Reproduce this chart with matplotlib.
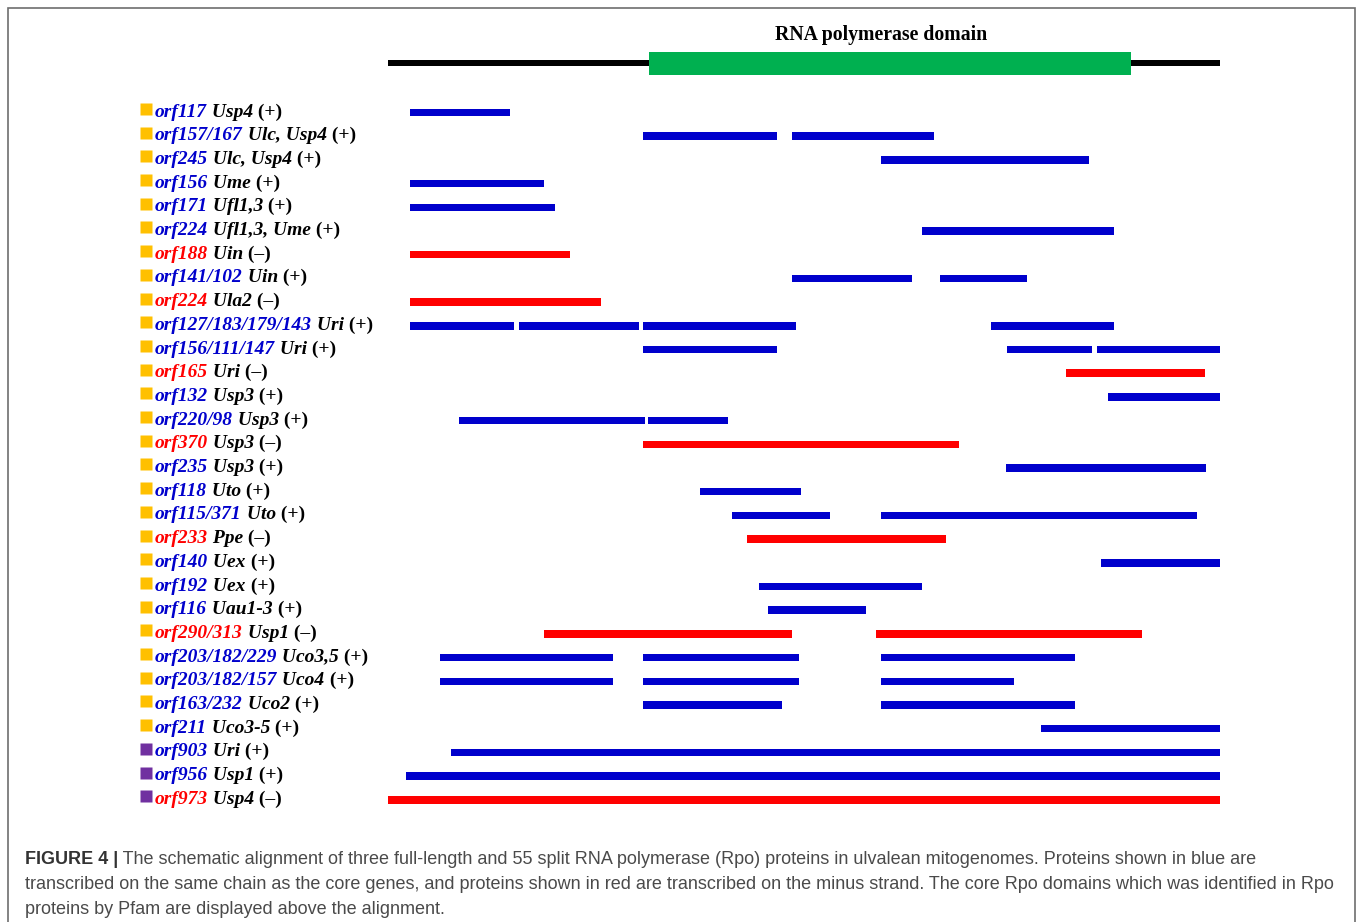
import matplotlib
matplotlib.use("Agg")
import matplotlib.pyplot as plt
import matplotlib.transforms as mtransforms
from matplotlib.patches import Rectangle

# ---------------- data ----------------
orfs = ['orf117', 'orf157/167', 'orf245', 'orf156', 'orf171', 'orf224',
        'orf188', 'orf141/102', 'orf224', 'orf127/183/179/143',
        'orf156/111/147', 'orf165', 'orf132', 'orf220/98', 'orf370',
        'orf235', 'orf118', 'orf115/371', 'orf233', 'orf140', 'orf192',
        'orf116', 'orf290/313', 'orf203/182/229', 'orf203/182/157',
        'orf163/232', 'orf211', 'orf903', 'orf956', 'orf973']
genes = ['Usp4', 'Ulc, Usp4', 'Ulc, Usp4', 'Ume', 'Ufl1,3', 'Ufl1,3, Ume',
         'Uin', 'Uin', 'Ula2', 'Uri', 'Uri', 'Uri', 'Usp3', 'Usp3', 'Usp3',
         'Usp3', 'Uto', 'Uto', 'Ppe', 'Uex', 'Uex', 'Uau1-3', 'Usp1',
         'Uco3,5', 'Uco4', 'Uco2', 'Uco3-5', 'Uri', 'Usp1', 'Usp4']
strands = ['+', '+', '+', '+', '+', '+', '-', '+', '-', '+', '+', '-', '+',
           '+', '-', '+', '+', '+', '-', '+', '+', '+', '-', '+', '+', '+',
           '+', '+', '+', '-']
# split proteins vs full-length ones
kind = ['split'] * 27 + ['full'] * 3

# aligned pieces (start, end) on a 0-1000 alignment scale
segments = [
    [(27, 147)],
    [(307, 468), (485, 656)],
    [(592, 843)],
    [(27, 187)],
    [(27, 201)],
    [(642, 872)],
    [(27, 219)],
    [(485, 630), (664, 768)],
    [(27, 256)],
    [(27, 152), (157, 302), (307, 490), (725, 872)],
    [(307, 467), (744, 846), (852, 1000)],
    [(815, 982)],
    [(865, 1000)],
    [(85, 309), (313, 409)],
    [(307, 686)],
    [(743, 983)],
    [(375, 496)],
    [(414, 531), (592, 972)],
    [(432, 671)],
    [(857, 1000)],
    [(446, 642)],
    [(457, 575)],
    [(188, 485), (586, 906)],
    [(63, 271), (307, 494), (592, 826)],
    [(63, 271), (307, 494), (592, 752)],
    [(307, 473), (592, 826)],
    [(785, 1000)],
    [(76, 1000)],
    [(22, 1000)],
    [(0, 1000)],
]

full_len = (0, 1000)
domain = (314, 893)
domain_name = 'RNA polymerase domain'

caption_bold = 'FIGURE 4 |'
caption_lines = [
    ' The schematic alignment of three full-length and 55 split RNA polymerase (Rpo) proteins in ulvalean mitogenomes. Proteins shown in blue are',
    'transcribed on the same chain as the core genes, and proteins shown in red are transcribed on the minus strand. The core Rpo domains which was identified in Rpo',
    'proteins by Pfam are displayed above the alignment.',
]

# ---------------- style ----------------
BLUE = '#0000CC'
RED = '#FF0000'
GREEN = '#00B050'
kind_col = {'split': '#FFC000', 'full': '#7030A0'}
strand_col = {'+': BLUE, '-': RED}
strand_txt = {'+': '(+)', '-': '(\u2013)'}

W, H = 1357, 922
fig = plt.figure(figsize=(W / 100, H / 100), dpi=100)

# frame round the figure
fig.patches.append(Rectangle((8 / W, -0.02), 1347 / W, 1.02 - 8 / H,
                             transform=fig.transFigure, fill=False,
                             edgecolor='#6e6e6e', lw=1.2))

row_px = 23.7
y0_px = 112.5
top_px, bot_px = 20, 830
ax = fig.add_axes([388 / W, 1 - bot_px / H, 832 / W, (bot_px - top_px) / H])
ax.set_xlim(0, 1000)
ax.set_ylim((bot_px - y0_px) / row_px, (top_px - y0_px) / row_px)
ax.axis('off')

bar_h = 7.5 / row_px

# domain track
ax.broken_barh([(full_len[0], full_len[1] - full_len[0])],
               (-2.08 - 3 / row_px, 6 / row_px), facecolors='black')
ax.broken_barh([(domain[0], domain[1] - domain[0])],
               (-2.55, 23 / row_px), facecolors=GREEN)
ax.text(593, -3.28, domain_name, ha='center', va='center',
        fontsize=14.2, fontweight='bold', family='Liberation Serif')

trans = mtransforms.blended_transform_factory(ax.transAxes, ax.transData)
fs = 14

for i in range(len(orfs)):
    col = strand_col[strands[i]]
    ax.broken_barh([(s, e - s) for s, e in segments[i]],
                   (i - bar_h / 2, bar_h), facecolors=col)

    ax.plot([-0.2903], [i - 0.15], marker='s', ms=8, mfc=kind_col[kind[i]],
            mec='none', transform=trans, clip_on=False)
    t1 = ax.text(-0.280, i + 0.17, orfs[i], transform=trans, va='baseline',
                 color=col, fontsize=fs, fontweight='bold', style='italic',
                 family='Liberation Serif')
    t2 = ax.annotate(' ' + genes[i], xy=(1, 0), xycoords=t1, va='bottom',
                     fontsize=fs, fontweight='bold', style='italic',
                     family='Liberation Serif', color='black')
    ax.annotate(' ' + strand_txt[strands[i]], xy=(1, 0), xycoords=t2,
                va='bottom', fontsize=fs, fontweight='bold',
                family='Liberation Serif', color='black')

# caption
cfs = 13.0
base_px = [864, 889, 914]
t = fig.text(25 / W, 1 - base_px[0] / H, caption_bold, fontsize=cfs,
             fontweight='bold', family='Liberation Sans', color='#333333',
             va='baseline')
ax.annotate(caption_lines[0], xy=(1, 0), xycoords=t, va='bottom',
            fontsize=cfs, family='Liberation Sans', color='#4a4a4a',
            annotation_clip=False)
for line, b in zip(caption_lines[1:], base_px[1:]):
    fig.text(25 / W, 1 - b / H, line, fontsize=cfs, family='Liberation Sans',
             color='#4a4a4a', va='baseline')

fig.savefig('out.png', dpi=100)
